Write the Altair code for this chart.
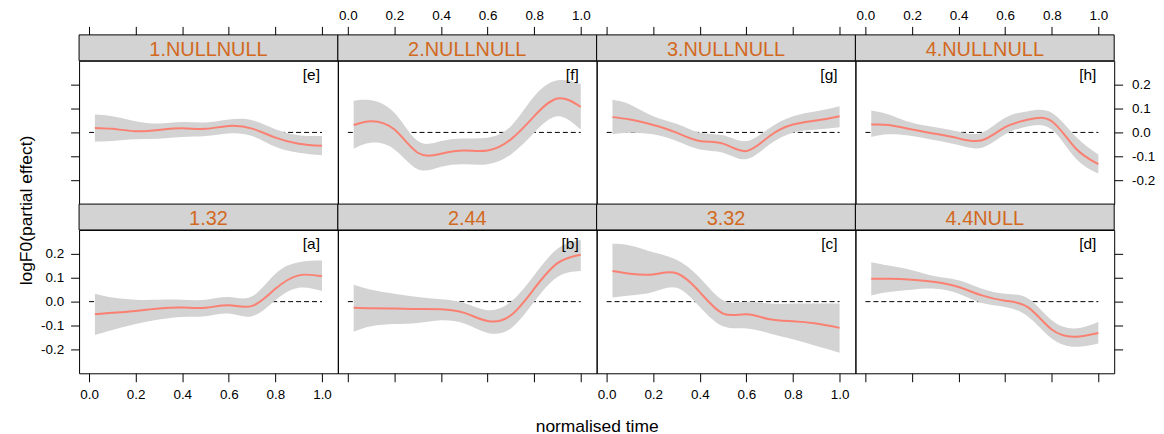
import altair as alt
import pandas as pd

# shared x grid (normalised time)
X = [0.025, 0.1, 0.2, 0.3, 0.4, 0.5, 0.6, 0.7, 0.8, 0.9, 1.0]

STRIPS = ["1.NULLNULL", "2.NULLNULL", "3.NULLNULL", "4.NULLNULL",
          "1.32", "2.44", "3.32", "4.4NULL"]
TAGS = ["[e]", "[f]", "[g]", "[h]", "[a]", "[b]", "[c]", "[d]"]

# fitted partial effects per panel
FIT_E = [0.019, 0.015, 0.005, 0.010, 0.017, 0.015, 0.027, 0.016, -0.022, -0.047, -0.056]
FIT_F = [0.031, 0.047, 0.012, -0.085, -0.089, -0.076, -0.076, -0.029, 0.068, 0.142, 0.107]
FIT_G = [0.064, 0.054, 0.031, -0.001, -0.036, -0.047, -0.078, -0.015, 0.033, 0.050, 0.068]
FIT_H = [0.033, 0.031, 0.012, -0.006, -0.025, -0.033, 0.022, 0.054, 0.047, -0.064, -0.133]
FIT_A = [-0.053, -0.047, -0.039, -0.029, -0.025, -0.026, -0.015, -0.018, 0.054, 0.110, 0.106]
FIT_B = [-0.026, -0.028, -0.029, -0.031, -0.032, -0.047, -0.081, -0.057, 0.054, 0.161, 0.196]
FIT_C = [0.128, 0.117, 0.114, 0.119, 0.040, -0.050, -0.053, -0.074, -0.082, -0.092, -0.110]
FIT_D = [0.096, 0.096, 0.092, 0.082, 0.061, 0.026, 0.004, -0.025, -0.117, -0.147, -0.131]

# lower confidence limits
LO_E = [-0.039, -0.036, -0.029, -0.026, -0.019, -0.015, -0.004, -0.015, -0.060, -0.085, -0.096]
LO_F = [-0.068, -0.043, -0.071, -0.154, -0.144, -0.133, -0.133, -0.092, -0.001, 0.068, 0.012]
LO_G = [-0.008, -0.001, -0.008, -0.036, -0.071, -0.085, -0.112, -0.050, -0.001, 0.012, 0.022]
LO_H = [-0.019, -0.008, -0.015, -0.033, -0.053, -0.064, -0.008, 0.026, 0.012, -0.106, -0.172]
LO_A = [-0.140, -0.119, -0.094, -0.075, -0.064, -0.061, -0.050, -0.061, 0.006, 0.058, 0.044]
LO_B = [-0.126, -0.103, -0.094, -0.089, -0.078, -0.092, -0.131, -0.112, -0.001, 0.103, 0.128]
LO_C = [0.017, 0.026, 0.040, 0.058, -0.022, -0.103, -0.112, -0.133, -0.158, -0.186, -0.214]
LO_D = [0.026, 0.040, 0.050, 0.054, 0.033, -0.006, -0.022, -0.064, -0.154, -0.189, -0.175]

# upper confidence limits
HI_E = [0.075, 0.068, 0.047, 0.037, 0.044, 0.042, 0.054, 0.051, 0.013, -0.012, -0.015]
HI_F = [0.133, 0.135, 0.082, -0.036, -0.036, -0.025, -0.022, 0.026, 0.151, 0.218, 0.203]
HI_G = [0.137, 0.117, 0.068, 0.036, -0.001, -0.012, -0.036, 0.019, 0.068, 0.089, 0.110]
HI_H = [0.092, 0.075, 0.040, 0.022, 0.003, -0.001, 0.061, 0.089, 0.082, -0.015, -0.092]
HI_A = [0.033, 0.017, 0.008, 0.008, 0.008, 0.008, 0.019, 0.022, 0.117, 0.165, 0.172]
HI_B = [0.071, 0.050, 0.033, 0.019, 0.010, -0.006, -0.036, -0.001, 0.110, 0.221, 0.258]
HI_C = [0.242, 0.235, 0.207, 0.175, 0.100, 0.006, -0.001, -0.008, -0.008, -0.008, -0.008]
HI_D = [0.165, 0.151, 0.131, 0.106, 0.089, 0.054, 0.033, 0.012, -0.078, -0.112, -0.085]

FITS = [FIT_E, FIT_F, FIT_G, FIT_H, FIT_A, FIT_B, FIT_C, FIT_D]
LOS = [LO_E, LO_F, LO_G, LO_H, LO_A, LO_B, LO_C, LO_D]
HIS = [HI_E, HI_F, HI_G, HI_H, HI_A, HI_B, HI_C, HI_D]

X_TICKS = [0.0, 0.2, 0.4, 0.6, 0.8, 1.0]
Y_TICKS = [-0.2, -0.1, 0.0, 0.1, 0.2]

W, H, STRIP = 260, 144, 26
FONT = "Liberation Sans"
LINE_COLOR = "#fa8072"
BAND_COLOR = "#d3d3d3"
STRIP_COLOR = "#d3d3d3"
STRIP_TEXT = "#d2691e"
INTERP = "natural"

xs = alt.Scale(domain=[-0.043, 1.068], nice=False, zero=False)
ys = alt.Scale(domain=[-0.3, 0.3], nice=False, zero=False)

Y_LABEL = "datum.value < 0 ? '-' + format(-datum.value, '.1f') : format(datum.value, '.1f')"


def x_axis(row, col):
    show = (row == 0 and col in (1, 3)) or (row == 1 and col in (0, 2))
    kw = dict(values=X_TICKS, format=".1f", labels=show, tickSize=8.5,
              domain=False, grid=False)
    if row == 0:
        kw.update(orient="top", offset=STRIP, labelPadding=4)
    else:
        kw.update(orient="bottom", labelPadding=6)
    if row == 1 and col == 1:
        kw.update(title="normalised time", titleX=W, titleY=58,
                  titleAlign="center", titleBaseline="alphabetic",
                  titleFontSize=17.5, titleFontWeight="normal", titleFont=FONT,
                  titleColor="black")
    return alt.Axis(**kw)


def y_axis(row, col):
    if col not in (0, 3):
        return None
    show = (row == 1 and col == 0) or (row == 0 and col == 3)
    kw = dict(values=Y_TICKS, labelExpr=Y_LABEL, labels=show, tickSize=8.5,
              domain=False, grid=False,
              labelPadding=7 if col == 0 else 9,
              orient="left" if col == 0 else "right")
    if row == 1 and col == 0:
        kw.update(title="logF0(partial effect)", titleY=-20,
                  titleFontSize=17.5, titleFontWeight="normal", titleFont=FONT,
                  titleColor="black", titlePadding=5)
    return alt.Axis(**kw)


def panel(i):
    row, col = divmod(i, 4)
    xa = x_axis(row, col)
    ya = y_axis(row, col)

    def X_(field):
        if row == 1 and col == 1:
            return alt.X(field, type="quantitative", scale=xs, axis=xa)
        return alt.X(field, type="quantitative", scale=xs, axis=xa, title=None)

    def Y_(field):
        if ya is None:
            return alt.Y(field, type="quantitative", scale=ys, axis=None)
        if row == 1 and col == 0:
            return alt.Y(field, type="quantitative", scale=ys, axis=ya)
        return alt.Y(field, type="quantitative", scale=ys, axis=ya, title=None)

    df = pd.DataFrame({"x": X, "fit": FITS[i], "lo": LOS[i], "hi": HIS[i]})
    zero = pd.DataFrame({"x": [0.0], "xend": [1.0], "y": [0.0]})
    lab = pd.DataFrame({"strip": [STRIPS[i]], "tag": [TAGS[i]]})

    rule = alt.Chart(zero).mark_rule(color="black", strokeWidth=1, strokeDash=[5, 3]).encode(
        x=X_("x"), x2="xend:Q", y=Y_("y"))
    band = alt.Chart(df).mark_area(color=BAND_COLOR, opacity=1, interpolate=INTERP).encode(
        x=X_("x"), y=Y_("lo"), y2="hi:Q")
    line = alt.Chart(df).mark_line(color=LINE_COLOR, strokeWidth=2, interpolate=INTERP).encode(
        x=X_("x"), y=Y_("fit"))
    tag = alt.Chart(lab).mark_text(align="right", baseline="alphabetic", fontSize=15.5,
                                   font=FONT, color="black").encode(
        x=alt.value(242), y=alt.value(19), text="tag:N")
    strip_bg = alt.Chart(lab).mark_rect(fill=STRIP_COLOR, stroke="black", strokeWidth=1).encode(
        x=alt.value(0), x2=alt.value(W), y=alt.value(-STRIP), y2=alt.value(0))
    strip_txt = alt.Chart(lab).mark_text(align="center", baseline="alphabetic", fontSize=20,
                                         font=FONT, color=STRIP_TEXT).encode(
        x=alt.value(W / 2), y=alt.value(-5), text="strip:N")
    return alt.layer(rule, band, line, tag, strip_bg, strip_txt).properties(width=W, height=H)


chart = alt.concat(*[panel(i) for i in range(8)], columns=4,
                   spacing={"row": STRIP, "column": 0}, bounds="flush").properties(
    padding={"left": 8.4, "top": -1, "right": 0, "bottom": 0}
).configure_view(stroke="black", strokeWidth=1).configure_axis(
    labelFont=FONT, labelFontSize=13.5, labelColor="black", tickColor="black",
    tickWidth=1, titleFont=FONT
)

chart.save("out.html", embed_options={"renderer": "svg", "actions": False})
